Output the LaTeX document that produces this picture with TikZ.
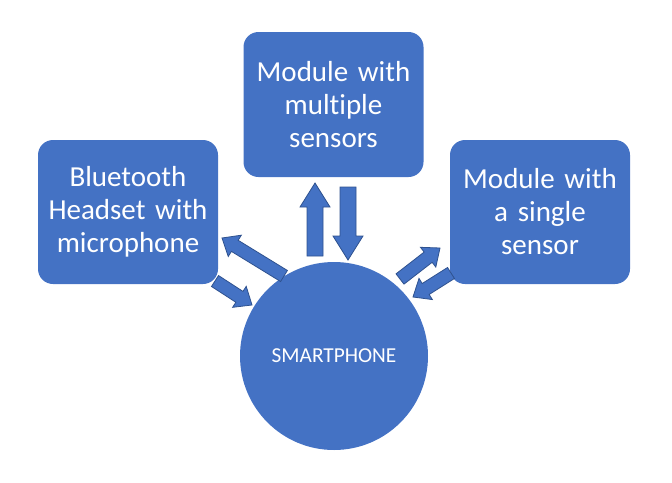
\documentclass[tikz,border=0pt]{standalone}
\usepackage{fontspec}
\setmainfont{Carlito}[Ligatures={NoCommon,NoRare}, RawFeature={-liga;-dlig}]
\usetikzlibrary{calc}
\definecolor{boxblue}{HTML}{4472C4}
\definecolor{edgeblue}{HTML}{2F528F}
\tikzset{
  box/.style={fill=boxblue, rounded corners=15pt, text=white, align=center,
    font=\fontsize{29}{33}\selectfont, minimum width=180pt, minimum height=144pt,
    inner sep=0pt, text width=176pt},
  hub/.style={circle, fill=boxblue, text=white, minimum size=188pt, inner sep=0pt,
    font=\fontsize{21.3}{25}\selectfont},
  blockarrow/.style={fill=boxblue, draw=edgeblue, line width=0.8pt, line join=miter}
}
% #1 tail, #2 tip, #3 shaft half width, #4 head half width, #5 head length
\newcommand\blockarr[5]{%
  \coordinate (ba-p) at ($(#2)!#5!(#1)$);
  \draw[blockarrow] ($(#1)!#3!90:(#2)$) -- ($(ba-p)!#3!90:(#2)$) -- ($(ba-p)!#4!90:(#2)$)
    -- (#2) -- ($(ba-p)!#4!-90:(#2)$) -- ($(ba-p)!#3!-90:(#2)$) -- ($(#1)!#3!-90:(#2)$) -- cycle;
}
\begin{document}
\begin{tikzpicture}[x=1pt, y=-1pt]
  \useasboundingbox (0,0) rectangle (672,482);
  \node[box] (left) at (128,212) {Bluetooth\\Headset with\\microphone};
  \node[box, minimum height=145pt] (top) at (333.5,104.5) {Module with\\multiple\\sensors};
  \node[box] (right) at (540,212) {Module with\\a single\\sensor};
  \node[hub] (phone) at (334,356) {SMARTPHONE};
  % arrow end points
  \coordinate (a1t) at (284,276); \coordinate (a1h) at (222,238);
  \coordinate (a2t) at (215,281); \coordinate (a2h) at (252,305);
  \coordinate (a3t) at (315,256); \coordinate (a3h) at (315,183);
  \coordinate (a4t) at (348,187); \coordinate (a4h) at (348,260);
  \coordinate (a5t) at (400,279); \coordinate (a5h) at (440,248);
  \coordinate (a6t) at (451,273); \coordinate (a6h) at (413,297);
  \blockarr{a1t}{a1h}{6.5pt}{12.5pt}{15pt}
  \blockarr{a2t}{a2h}{6.5pt}{12.5pt}{15pt}
  \blockarr{a3t}{a3h}{8pt}{15pt}{24pt}
  \blockarr{a4t}{a4h}{8pt}{15pt}{24pt}
  \blockarr{a5t}{a5h}{6.5pt}{12.5pt}{15pt}
  \blockarr{a6t}{a6h}{6.5pt}{12.5pt}{15pt}
\end{tikzpicture}
\end{document}
